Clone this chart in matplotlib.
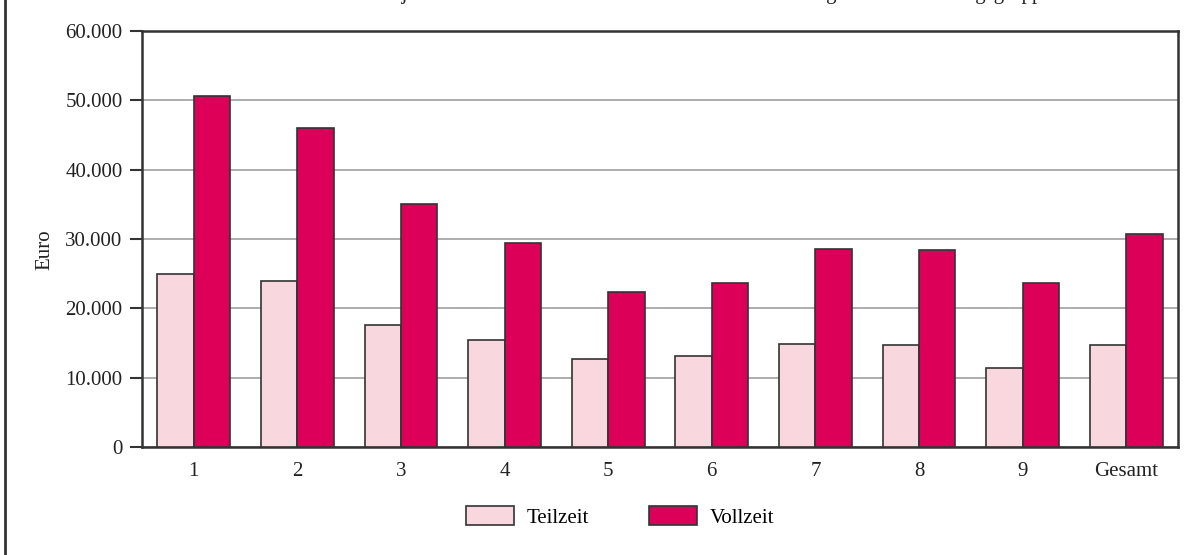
import matplotlib
matplotlib.use("Agg")
import matplotlib.pyplot as plt
import numpy as np
from matplotlib.lines import Line2D

# Daten
gruppen = ['1', '2', '3', '4', '5', '6', '7', '8', '9', 'Gesamt']
teilzeit = [25000, 24000, 17600, 15400, 12700, 13100, 14900, 14700, 11400, 14700]
vollzeit = [50600, 46000, 35100, 29400, 22400, 23700, 28600, 28400, 23700, 30700]
yticks = [0, 10000, 20000, 30000, 40000, 50000, 60000]
ytick_labels = ['0', '10.000', '20.000', '30.000', '40.000', '50.000', '60.000']

plt.rcParams['font.family'] = ['Liberation Serif', 'DejaVu Serif']

fig = plt.figure(figsize=(11.98, 5.55), dpi=100)
ax = fig.add_axes([142 / 1198, 1 - 447 / 555, 1036 / 1198, 416 / 555])

x = np.arange(len(gruppen))
w = 0.352
ax.bar(x - w / 2, teilzeit, w, color='#f9d7de', edgecolor='#333333', linewidth=1.2,
       label='Teilzeit', zorder=3)
ax.bar(x + w / 2, vollzeit, w, color='#dc0058', edgecolor='#333333', linewidth=1.2,
       label='Vollzeit', zorder=3)

ax.set_xlim(-0.5, len(gruppen) - 0.5)
ax.set_ylim(0, 60000)
ax.set_yticks(yticks)
ax.set_yticklabels(ytick_labels)
ax.set_xticks(x)
ax.set_xticklabels(gruppen)
ax.tick_params(axis='y', length=9, width=1.5, color='#333333', pad=5,
               labelsize=15, labelcolor='#222222')
ax.tick_params(axis='x', length=0, pad=11, labelsize=15, labelcolor='#222222')

ax.yaxis.grid(True, color='#a0a0a0', linewidth=1.2, zorder=0)
ax.set_axisbelow(True)
for s in ax.spines.values():
    s.set_color('#333333')
    s.set_linewidth(1.8)

fig.text(45 / 1198, 1 - 250 / 555, 'Euro', rotation=90, ha='center', va='center',
         fontsize=15, color='#222222')

# abgeschnittener Titel am oberen Rand (nur Unterlängen sichtbar)
fig.text(0.52, 1 + 0.5 / 555,
         'Durchschnittliche Bruttojahresverdienste der Teilzeit- und Vollzeitbeschäftigten nach Leistungsgruppe',
         ha='center', va='baseline', fontsize=15, color='#222222')

# linker Rahmen
fig.add_artist(Line2D([5 / 1198, 5 / 1198], [0, 1], transform=fig.transFigure,
                      color='#333333', linewidth=2))

fig.legend(loc='center', bbox_to_anchor=(620 / 1198, 1 - 517 / 555), ncol=2,
           frameon=False, fontsize=15, handlelength=2.3, handleheight=1.0,
           handletextpad=0.6, columnspacing=2.9)

fig.savefig('out.png', dpi=100)
